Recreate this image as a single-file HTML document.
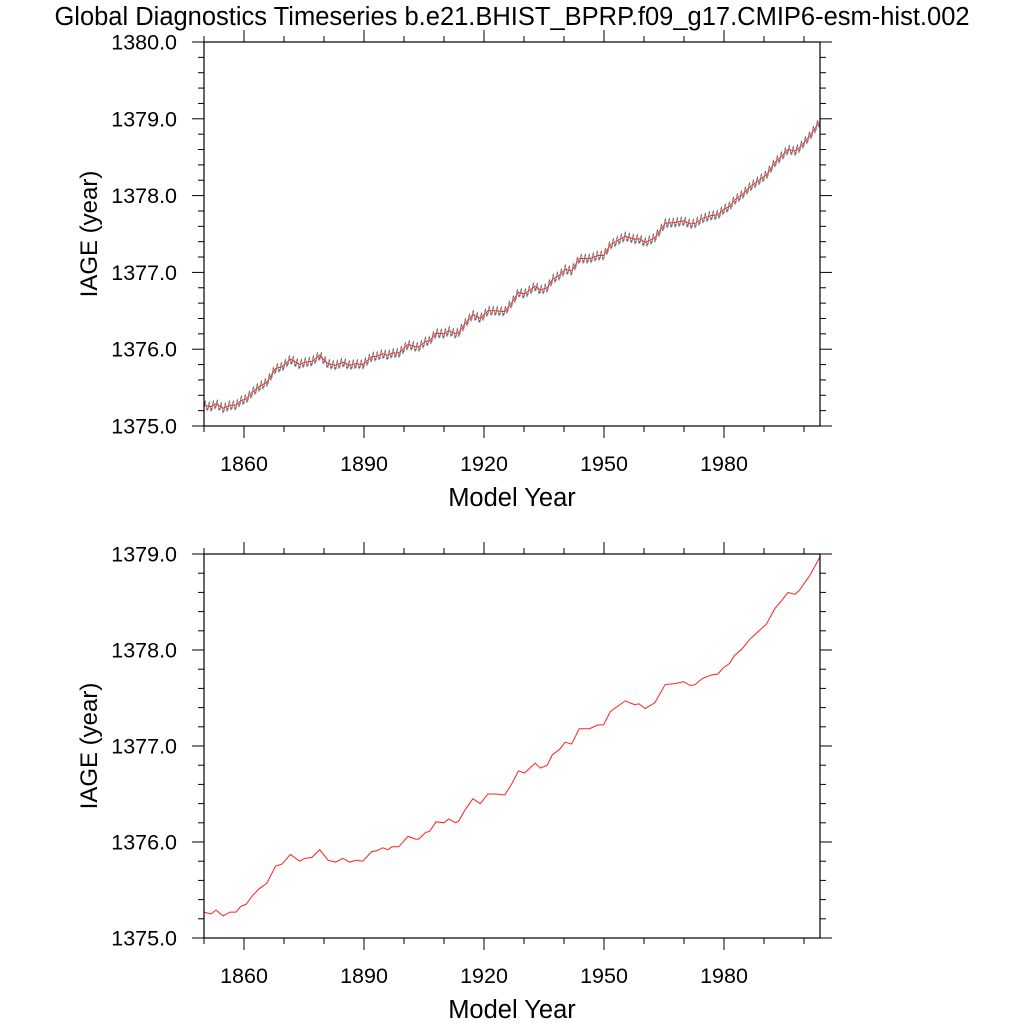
<!DOCTYPE html>
<html><head><meta charset="utf-8"><style>
html,body{margin:0;padding:0;background:#fff;}
svg{display:block;font-family:"Liberation Sans",sans-serif;}
</style></head><body>
<svg id="chart" width="1024" height="1024" viewBox="0 0 1024 1024">
<text x="512" y="25" font-size="25.5" text-anchor="middle">Global Diagnostics Timeseries b.e21.BHIST_BPRP.f09_g17.CMIP6-esm-hist.002</text>
</svg>
<script>
const years = [1850,1851.7,1853,1854.8,1856.5,1858,1859.2,1860.5,1862.1,1863.7,1865.7,1867.9,1869.5,1871.6,1873.9,1875.2,1877,1878.9,1881,1882.9,1884.7,1886.4,1887.9,1889.7,1891.9,1893.3,1894.7,1896,1897,1898.7,1901,1902.9,1903.7,1905.4,1906.4,1908,1910,1911.2,1912.9,1913.7,1915.2,1917.2,1919.1,1921,1922.9,1925.2,1927,1928.6,1930.1,1932.8,1934.1,1935.8,1937.1,1938.8,1940.3,1941.9,1943.8,1946.4,1948.5,1949.9,1951.6,1955.3,1957.7,1958.7,1960.3,1962.7,1965.3,1967.8,1969.9,1971.6,1972.8,1974.5,1976.8,1978.5,1979.7,1981.4,1982.6,1984.5,1986.4,1990.6,1992.7,1994.3,1996,1997.7,1998.8,2001.5,2004];
const annualValues = [1375.27,1375.25,1375.29,1375.23,1375.27,1375.27,1375.33,1375.35,1375.44,1375.51,1375.57,1375.75,1375.77,1375.87,1375.80,1375.83,1375.84,1375.92,1375.81,1375.79,1375.83,1375.79,1375.81,1375.80,1375.90,1375.91,1375.94,1375.92,1375.95,1375.95,1376.06,1376.03,1376.03,1376.10,1376.11,1376.21,1376.20,1376.24,1376.20,1376.22,1376.33,1376.45,1376.40,1376.50,1376.50,1376.49,1376.61,1376.74,1376.72,1376.82,1376.77,1376.80,1376.91,1376.96,1377.04,1377.02,1377.18,1377.18,1377.22,1377.22,1377.36,1377.47,1377.43,1377.44,1377.39,1377.45,1377.64,1377.65,1377.67,1377.63,1377.64,1377.70,1377.74,1377.75,1377.81,1377.86,1377.94,1378.01,1378.11,1378.27,1378.43,1378.51,1378.60,1378.58,1378.62,1378.78,1378.97];
const seasonalCycle = [-0.05,-0.02,0.02,0.05,0.06,0.04,0.01,-0.02,-0.05,-0.06,-0.04,-0.02];
const xTickLabels = ["1860","1890","1920","1950","1980"];
const topYTickLabels = ["1375.0","1376.0","1377.0","1378.0","1379.0","1380.0"];
const bottomYTickLabels = ["1375.0","1376.0","1377.0","1378.0","1379.0"];

const NS="http://www.w3.org/2000/svg";
const svg=document.getElementById('chart');
function mk(tag,attrs,parent){const e=document.createElementNS(NS,tag);for(const k in attrs)e.setAttribute(k,attrs[k]);(parent||svg).appendChild(e);return e;}
function interp(yr){
  if(yr<=years[0])return annualValues[0];
  for(let i=1;i<years.length;i++){if(yr<=years[i]){const t=(yr-years[i-1])/(years[i]-years[i-1]);return annualValues[i-1]+t*(annualValues[i]-annualValues[i-1]);}}
  return annualValues[annualValues.length-1];
}
function panel(name,top,bottom,ymin,ymax,ylabels,withMonthly){
  const L=204,R=820,x0=1850,x1=2004;
  const X=v=>L+(v-x0)/(x1-x0)*(R-L);
  const Y=v=>bottom-(v-ymin)/(ymax-ymin)*(bottom-top);
  const g=mk('g',{});
  
  
  for(let yr=1850;yr<=2000;yr+=10){
    const major=(yr-1860)%30===0; const len=major?12:6; const x=X(yr);
    const t1=mk('line',{x1:x,x2:x,y1:bottom,y2:bottom+len,stroke:'#000','stroke-width':1},g);
    
    
    const t2=mk('line',{x1:x,x2:x,y1:top,y2:top-len,stroke:'#000','stroke-width':1},g);
    
    
  }
  xTickLabels.forEach(s=>{
    const t=mk('text',{x:X(+s),y:bottom+45,'font-size':21.5,'text-anchor':'middle'},g);t.textContent=s;
    
    
  });
  for(let v=ymin;v<=ymax+1e-6;v+=0.2){
    const major=Math.abs(v-Math.round(v))<1e-6; const len=major?12:6; const y=Y(v);
    const a=mk('line',{x1:L,x2:L-len,y1:y,y2:y,stroke:'#000','stroke-width':1},g);
    
    
    const b=mk('line',{x1:R,x2:R+len,y1:y,y2:y,stroke:'#000','stroke-width':1},g);
    
    
  }
  ylabels.forEach(s=>{
    const t=mk('text',{x:L-27,y:Y(+s)+7.5,'font-size':21.5,'text-anchor':'end'},g);t.textContent=s;
    
    
  });
  const yl=mk('text',{x:0,y:0,'font-size':24,'text-anchor':'middle',transform:`translate(97,${(top+bottom)/2}) rotate(-90)`},g);yl.textContent='IAGE (year)';
  
  
  const xl=mk('text',{x:(L+R)/2,y:bottom+80,'font-size':25.5,'text-anchor':'middle'},g);xl.textContent='Model Year';
  
  
  if(withMonthly){
    let pts=[];
    for(let m=0;m<=(x1-x0)*12;m++){const yr=x0+m/12;pts.push(X(yr).toFixed(2)+','+Y(interp(yr)+seasonalCycle[m%12]).toFixed(2));}
    const p=mk('polyline',{points:pts.join(' '),fill:'none',stroke:'#555','stroke-width':0.6},g);
    
    
  }
  const rp=years.map((yr,i)=>X(yr).toFixed(2)+','+Y(annualValues[i]).toFixed(2)).join(' ');
  const r=mk('polyline',{points:rp,fill:'none',stroke:'#ff2020','stroke-width':1},g);
  
  
  const box=mk('rect',{x:L,y:top,width:R-L,height:bottom-top,fill:'none',stroke:'#000','stroke-width':1.2},g);
  
  
}
panel('top-panel',42,426,1375,1380,topYTickLabels,true);
panel('bottom-panel',554,938,1375,1379,bottomYTickLabels,false);
</script>
</body></html>
